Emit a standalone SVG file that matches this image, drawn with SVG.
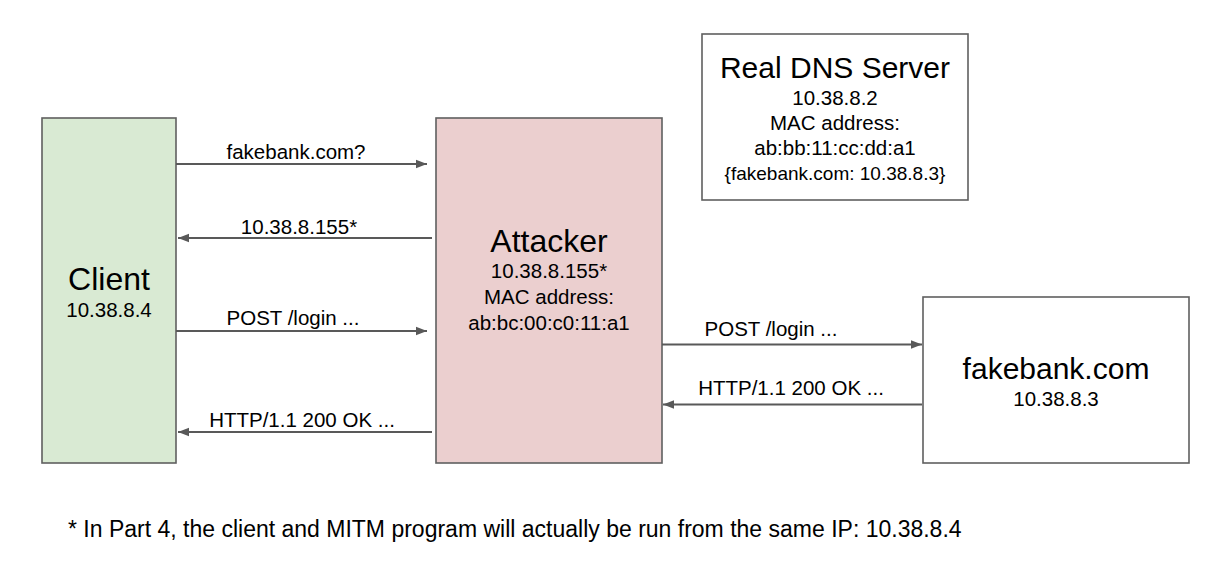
<svg xmlns="http://www.w3.org/2000/svg" width="1228" height="568" viewBox="0 0 1228 568">
<defs>
<style>
text{font-family:"Liberation Sans",Arial,sans-serif;fill:#000;text-anchor:middle}
.box{stroke:#5f5f5f;stroke-width:1.6}
.t{font-size:32px}
.s{font-size:20.5px}
.lbl{font-size:20.5px}
.conn{stroke:#595959;stroke-width:1.8;fill:none;marker-end:url(#ah)}
</style>
<marker id="ah" markerUnits="userSpaceOnUse" markerWidth="12" markerHeight="10" refX="11" refY="5" orient="auto">
<path d="M0,0.8 L11,5 L0,9.2 Z" fill="#595959"/>
</marker>
</defs>
<rect width="1228" height="568" fill="#fff"/>
<g id="client">
<rect class="box" x="42" y="118" width="134" height="345" fill="#d9ead3"/>
<text class="t" x="109" y="290">Client</text>
<text class="s" x="109" y="317">10.38.8.4</text>
</g>
<g id="attacker">
<rect class="box" x="436" y="118" width="226" height="345" fill="#ebcfcf"/>
<text class="t" x="549" y="252">Attacker</text>
<text class="s" x="549" y="278">10.38.8.155*</text>
<text class="s" x="549" y="304">MAC address:</text>
<text class="s" x="549" y="330">ab:bc:00:c0:11:a1</text>
</g>
<g id="dns">
<rect class="box" x="702" y="34" width="266" height="166" fill="#fff"/>
<text x="835" y="78" style="font-size:30px">Real DNS Server</text>
<text class="s" x="835" y="105">10.38.8.2</text>
<text class="s" x="835" y="130">MAC address:</text>
<text class="s" x="835" y="155">ab:bb:11:cc:dd:a1</text>
<text x="835" y="180" style="font-size:19px">{fakebank.com: 10.38.8.3}</text>
</g>
<g id="fakebank">
<rect class="box" x="923" y="297" width="266" height="166" fill="#fff"/>
<text x="1056" y="379" style="font-size:30px">fakebank.com</text>
<text class="s" x="1056" y="406">10.38.8.3</text>
</g>
<g id="connectors">
<line class="conn" x1="176" y1="164" x2="427" y2="164"/>
<line class="conn" x1="432" y1="238" x2="178" y2="238"/>
<line class="conn" x1="176" y1="331" x2="427" y2="331"/>
<line class="conn" x1="432" y1="432" x2="178" y2="432"/>
<line class="conn" x1="662" y1="344.5" x2="922" y2="344.5"/>
<line class="conn" x1="922" y1="404.5" x2="663" y2="404.5"/>
<text class="lbl" x="296" y="159">fakebank.com?</text>
<text class="lbl" x="299" y="234">10.38.8.155*</text>
<text class="lbl" x="293" y="325">POST /login ...</text>
<text class="lbl" x="302" y="427">HTTP/1.1 200 OK ...</text>
<text class="lbl" x="771" y="336">POST /login ...</text>
<text class="lbl" x="791" y="395">HTTP/1.1 200 OK ...</text>
</g>
<text x="68" y="537" style="font-size:23px;text-anchor:start">* In Part 4, the client and MITM program will actually be run from the same IP: 10.38.8.4</text>
</svg>
